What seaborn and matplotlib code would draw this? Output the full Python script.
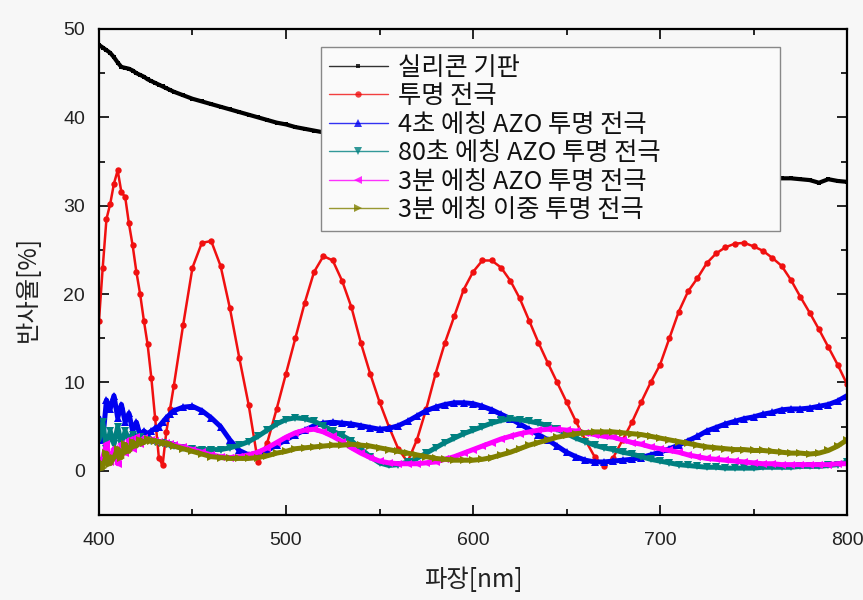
import matplotlib
matplotlib.use("Agg")
import matplotlib.pyplot as plt
import seaborn as sns
import numpy as np
from matplotlib.ticker import MultipleLocator

# ---------------- data ----------------
WL = [400, 402, 404, 406, 408, 410, 412, 414, 416, 418, 420, 422, 424, 426, 428, 430,
      432, 434, 436, 438, 440,
      445, 450, 455, 460, 465, 470, 475, 480, 485, 490, 495, 500, 505, 510, 515, 520,
      525, 530, 535, 540, 545, 550, 555, 560, 565, 570, 575, 580, 585, 590, 595, 600,
      605, 610, 615, 620, 625, 630, 635, 640, 645, 650, 655, 660, 665, 670, 675, 680,
      685, 690, 695, 700, 705, 710, 715, 720, 725, 730, 735, 740, 745, 750, 755, 760,
      765, 770, 775, 780, 785, 790, 795, 800]

SILICON = [48.2, 47.9, 47.6, 47.3, 46.8, 46.2, 45.7, 45.6, 45.5, 45.3, 45.0, 44.8, 44.6, 44.3, 44.1, 43.9,
           43.7, 43.5, 43.3, 43.1, 42.9,
           42.5, 42.1, 41.8, 41.5, 41.2, 40.9, 40.6, 40.3, 40.0, 39.7, 39.4, 39.2, 38.9, 38.7, 38.5, 38.3,
           37.9, 37.6, 37.3, 37.0, 36.7, 36.5, 36.2, 36.0, 35.8, 35.6, 35.4, 35.2, 35.0, 34.9, 34.7, 34.6,
           34.4, 34.3, 34.2, 34.1, 34.0, 33.9, 33.8, 33.7, 33.6, 33.6, 33.5, 33.5, 33.4, 33.4, 33.3, 33.3,
           33.3, 33.2, 33.2, 33.2, 33.2, 33.1, 33.1, 33.1, 33.1, 33.1, 33.0, 33.0, 33.0, 33.0, 33.0, 33.0,
           33.1, 33.1, 33.0, 32.9, 32.6, 33.0, 32.8, 32.7]

TRANSPARENT = [17.0, 23.0, 28.5, 30.2, 32.5, 34.0, 31.5, 31.0, 28.0, 25.5, 22.5, 20.0, 17.0, 14.3, 10.5, 6.0,
               1.5, 0.6, 4.4, 7.0, 9.6,
               16.5, 23.0, 25.8, 26.0, 23.2, 18.4, 12.8, 7.5, 1.0, 3.2, 7.0, 11.0, 15.0, 19.0, 22.5, 24.3,
               23.8, 21.5, 18.5, 14.5, 11.0, 7.8, 5.0, 2.5, 1.0, 3.5, 7.0, 11.0, 14.5, 17.5, 20.5, 22.5,
               23.8, 23.8, 23.0, 21.5, 19.5, 17.0, 14.5, 12.2, 10.0, 7.8, 5.6, 3.5, 1.6, 0.5, 1.5, 3.5,
               5.5, 7.8, 10.0, 12.0, 15.0, 18.0, 20.3, 21.8, 23.5, 24.6, 25.3, 25.7, 25.8, 25.4, 24.9, 24.1,
               23.2, 21.6, 19.7, 17.9, 16.0, 14.0, 12.0, 9.8]

AZO_4S = [6.0, 3.5, 8.0, 7.0, 8.5, 6.0, 7.5, 5.5, 6.5, 4.5, 5.5, 4.0, 4.5, 4.2, 4.5, 4.8,
          5.0, 5.5, 6.0, 6.4, 6.8,
          7.2, 7.3, 6.8, 6.0, 5.0, 3.5, 2.3, 1.8, 2.0, 2.3, 2.9, 3.5, 4.1, 4.6, 5.1, 5.4,
          5.5, 5.4, 5.3, 5.1, 4.9, 4.7, 4.8, 5.1, 5.6, 6.2, 6.8, 7.2, 7.5, 7.7, 7.7, 7.6,
          7.3, 6.9, 6.4, 5.9, 5.3, 4.7, 4.1, 3.5, 2.8, 2.1, 1.6, 1.2, 1.0, 1.0, 1.1, 1.2,
          1.3, 1.5, 1.8, 2.1, 2.5, 2.9, 3.4, 3.9, 4.5, 4.9, 5.3, 5.6, 5.9, 6.1, 6.4, 6.6,
          6.9, 7.0, 7.0, 7.1, 7.3, 7.5, 7.9, 8.5]

AZO_80S = [3.5, 5.5, 2.5, 4.5, 3.0, 5.0, 3.0, 4.5, 3.5, 4.0, 3.2, 3.8, 3.4, 3.5, 3.4, 3.3,
           3.2, 3.1, 3.0, 2.9, 2.8,
           2.6, 2.5, 2.4, 2.4, 2.4, 2.6, 2.9, 3.3, 3.9, 4.6, 5.3, 5.8, 6.0, 5.9, 5.6, 5.1,
           4.5, 4.0, 3.4, 2.5, 1.6, 0.9, 0.6, 0.7, 1.0, 1.4, 2.0, 2.6, 3.2, 3.7, 4.2, 4.6,
           5.0, 5.4, 5.7, 5.9, 5.8, 5.6, 5.4, 5.1, 4.7, 4.2, 3.7, 3.3, 2.9, 2.6, 2.4, 2.1,
           1.9, 1.6, 1.3, 1.1, 0.9, 0.7, 0.6, 0.5, 0.4, 0.4, 0.3, 0.3, 0.3, 0.3, 0.4, 0.4,
           0.4, 0.4, 0.5, 0.5, 0.5, 0.6, 0.7, 1.0]

AZO_3M = [0.5, 1.5, 3.0, 1.0, 2.5, 0.8, 3.0, 2.0, 3.5, 2.5, 3.8, 3.0, 3.7, 3.5, 3.5, 3.4,
          3.3, 3.2, 3.1, 3.0, 2.9,
          2.7, 2.4, 2.1, 1.8, 1.6, 1.5, 1.6, 1.8, 2.1, 2.6, 3.2, 3.8, 4.3, 4.6, 4.7, 4.4,
          3.9, 3.3, 2.6, 2.0, 1.5, 1.1, 0.9, 0.8, 0.8, 0.8, 0.9, 1.0, 1.3, 1.6, 2.0, 2.4,
          2.8, 3.2, 3.6, 3.9, 4.2, 4.4, 4.6, 4.7, 4.7, 4.6, 4.5, 4.3, 4.1, 3.9, 3.8, 3.5,
          3.2, 3.0, 2.7, 2.5, 2.3, 2.1, 1.8, 1.6, 1.4, 1.3, 1.2, 1.1, 1.0, 0.9, 0.8, 0.8,
          0.7, 0.7, 0.7, 0.7, 0.7, 0.7, 0.8, 0.8]

DOUBLE_3M = [1.0, 0.3, 2.0, 0.8, 1.5, 2.5, 1.5, 3.0, 2.2, 3.3, 2.8, 3.5, 3.2, 3.6, 3.4, 3.4,
             3.3, 3.2, 3.1, 3.0, 2.8,
             2.5, 2.2, 1.9, 1.6, 1.5, 1.4, 1.4, 1.4, 1.5, 1.7, 2.0, 2.2, 2.5, 2.6, 2.7, 2.8,
             2.9, 2.9, 3.0, 2.9, 2.8, 2.6, 2.4, 2.2, 2.0, 1.8, 1.6, 1.4, 1.3, 1.2, 1.2, 1.2,
             1.3, 1.5, 1.8, 2.1, 2.5, 2.9, 3.2, 3.5, 3.8, 4.0, 4.2, 4.3, 4.4, 4.4, 4.4, 4.3,
             4.2, 4.1, 3.9, 3.7, 3.5, 3.3, 3.1, 2.9, 2.7, 2.6, 2.5, 2.4, 2.4, 2.3, 2.3, 2.2,
             2.1, 2.0, 2.0, 1.9, 2.0, 2.3, 2.8, 3.5]

LABELS = ["실리콘 기판", "투명 전극", "4초 에칭 AZO 투명 전극", "80초 에칭 AZO 투명 전극",
          "3분 에칭 AZO 투명 전극", "3분 에칭 이중 투명 전극"]
SERIES = [SILICON, TRANSPARENT, AZO_4S, AZO_80S, AZO_3M, DOUBLE_3M]
COLORS = ["#000000", "#f01010", "#0000f0", "#008080", "#ff00ff", "#808000"]
MARKERS = ["s", "o", "^", "v", "<", ">"]
LWS = [3.0, 1.8, 3.6, 3.6, 3.6, 3.6]
MSS = [3.5, 4.6, 5.5, 5.5, 5.5, 5.5]

# ---------------- style ----------------
sns.set_style("ticks")
plt.rcParams["font.family"] = ["Noto Sans CJK KR", "DejaVu Sans"]
BG = "#f7f7f7"

fig = plt.figure(figsize=(8.63, 6.0), dpi=100, facecolor=BG)
ax = fig.add_axes([0.1147, 0.1417, 0.8668, 0.81])
ax.set_facecolor(BG)

for vals, lab, col, mk, lw, ms in zip(SERIES, LABELS, COLORS, MARKERS, LWS, MSS):
    sns.lineplot(x=WL, y=vals, ax=ax, color=col, marker=mk, markersize=ms,
                 markeredgewidth=0, linewidth=lw, label=lab, sort=False)

ax.set_xlim(400, 800)
ax.set_ylim(-5, 50)
ax.xaxis.set_major_locator(MultipleLocator(100))
ax.xaxis.set_minor_locator(MultipleLocator(50))
ax.yaxis.set_major_locator(MultipleLocator(10))
ax.yaxis.set_minor_locator(MultipleLocator(5))
ax.tick_params(which="both", direction="in", top=True, right=True, width=1.2, color="black")
ax.tick_params(which="major", length=7)
ax.tick_params(which="minor", length=4)
ax.tick_params(axis="x", which="major", pad=12)
ax.tick_params(axis="y", which="major", pad=10)
for lbl in ax.get_xticklabels() + ax.get_yticklabels():
    lbl.set_fontfamily(["Liberation Sans", "DejaVu Sans"])
    lbl.set_fontsize(14)
    lbl.set_color("#222222")
for sp in ax.spines.values():
    sp.set_linewidth(1.6)
    sp.set_color("black")
    sp.set_visible(True)

ax.set_xlabel("파장[nm]", fontsize=17.5, color="#222222")
ax.set_ylabel("반사율[%]", fontsize=17.5, color="#222222")
ax.xaxis.set_label_coords(0.5, -0.134)
ax.xaxis.label.set_va("center")
ax.yaxis.set_label_coords(-0.095, 0.465)
ax.yaxis.label.set_va("center")

leg = ax.legend(loc="upper left", bbox_to_anchor=(0.297, 0.5905, 0.613, 0.3725),
                mode="expand", borderaxespad=0,
                frameon=True, fancybox=False, edgecolor="#888888", facecolor="#fafafa",
                framealpha=1.0, fontsize=18.2, handlelength=2.35, handletextpad=0.4,
                labelspacing=0.1, borderpad=0.3)
leg.get_frame().set_linewidth(1.0)
for ln in leg.get_lines():
    ln.set_linewidth(1.0)
    ln.set_alpha(0.8)
for t in leg.get_texts():
    t.set_color("#111111")

fig.savefig("out.png", dpi=100, facecolor=BG)
